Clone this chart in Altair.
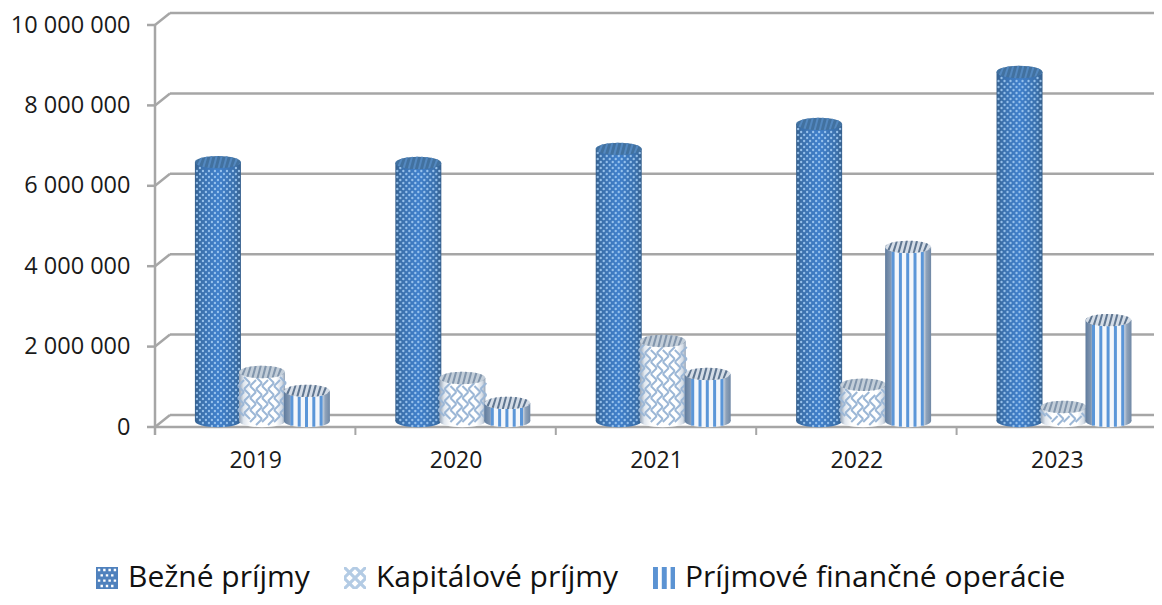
import math
import altair as alt
import pandas as pd

YEARS = ["2019", "2020", "2021", "2022", "2023"]
SERIES = ["Bežné príjmy", "Kapitálové príjmy", "Príjmové finančné operácie"]
BEZNE = [6440000, 6420000, 6770000, 7390000, 8680000]
KAPITAL = [1220000, 1070000, 1990000, 900000, 350000]
FINANCNE = [750000, 450000, 1170000, 4330000, 2510000]
TICKS = [0, 2000000, 4000000, 6000000, 8000000, 10000000]

FONT = "Open Sans"
GREY = "#a6a6a6"
UX = 200.4            # px per category
UY = 40.2 / 1e6       # px per value
DEPTH_X = 15 / UX
DEPTH_Y = 12 / UY
MID_Y = 6 / UY
OFFS = [0.314, 0.534, 0.758]
HALF = 23 / UX
RY = 6


def grad(stops):
    return alt.Gradient(gradient="linear", x1=0, x2=1, y1=0, y2=0,
                        stops=[alt.GradientStop(offset=o, color=c) for o, c in stops])


def ell_path(ry=0.27):
    return f"M-1,0 A1,{ry} 0 1 1 1,0 A1,{ry} 0 1 1 -1,0 Z"


def hatch_path(ry=0.27, w=0.09, s=0.14, step=0.22):
    def yy(x):
        return ry * math.sqrt(max(0, 1 - x * x))
    def c(x):
        return max(-1, min(1, x))
    parts = []
    x0 = -1.12
    while x0 < 1:
        a, b, d, e = c(x0), c(x0 + w), c(x0 + w + s), c(x0 + s)
        parts.append(f"M{a:.3f},{yy(a):.3f}L{b:.3f},{yy(b):.3f}L{d:.3f},{-yy(d):.3f}L{e:.3f},{-yy(e):.3f}Z")
        x0 += step
    return "".join(parts)


def swatch_dots():
    p = "M-1,-1L1,-1L1,1L-1,1Z"
    h = 0.11
    for i, y in enumerate([-0.72, -0.24, 0.24, 0.72]):
        for x in ([-0.72, -0.24, 0.24, 0.72] if i % 2 == 0 else [-0.48, 0, 0.48]):
            p += f"M{x-h},{y-h}L{x-h},{y+h}L{x+h},{y+h}L{x+h},{y-h}Z"
    return p


def swatch_weave():
    p = ""
    for r, y in enumerate([-1, -0.5, 0, 0.5]):
        for i in range(4):
            x = -1 + i * 0.5
            if (i + r) % 2 == 0:
                p += f"M{x},{y}L{x+.2},{y}L{x+.5},{y+.3}L{x+.5},{y+.5}L{x+.3},{y+.5}L{x},{y+.2}Z"
            else:
                p += f"M{x+.5},{y}L{x+.3},{y}L{x},{y+.3}L{x},{y+.5}L{x+.2},{y+.5}L{x+.5},{y+.2}Z"
    return p


SWATCH_STRIPES = "M-1,-1L-.55,-1L-.55,1L-1,1ZM-.2,-1L.25,-1L.25,1L-.2,1ZM.6,-1L1,-1L1,1L.6,1Z"

# frames ------------------------------------------------------------------
def columns(vals, idx):
    rows = []
    for k, v in enumerate(vals):
        cx = k + OFFS[idx]
        rows.append(dict(year=YEARS[k], cx=cx, xl=cx - HALF, xr=cx + HALF,
                         y0=MID_Y, top=v + MID_Y))
    return pd.DataFrame(rows)


def dots(vals, idx):
    rows = []
    for k, v in enumerate(vals):
        cx = k + OFFS[idx]
        base = 421.0
        top = 421.0 - (v * UY)
        row = 0
        py = 426.0
        while py > top - 2:
            start = -18 if row % 2 == 0 else -21
            o = start
            while o <= 21:
                e = RY * math.sqrt(max(0, 1 - (o / 23) ** 2))
                if top + e + 1 < py < base + e - 0.5:
                    rows.append(dict(x=cx + o / UX, y=(427 - py) / UY))
                o += 6
            row += 1
            py -= 3
    return pd.DataFrame(rows)


def weave(vals, idx):
    rows = []
    step = 6
    for k, v in enumerate(vals):
        cx = k + OFFS[idx]
        top = 421.0 - v * UY
        for c in range(-4, 4):
            o = c * step + 0.0
            r = 0
            py = 428.0 - (c % 2) * 3
            while py > top:
                x1, x2 = o, o + step
                y1, y2 = py, py - step
                if (c + r) % 2 == 0:
                    y1, y2 = py - step, py
                e1 = RY * math.sqrt(max(0, 1 - (x1 / 23) ** 2))
                e2 = RY * math.sqrt(max(0, 1 - (x2 / 23) ** 2))
                if min(y1, y2) > top + max(e1, e2) - 1 and max(y1, y2) < 421 + min(e1, e2):
                    rows.append(dict(x=cx + x1 / UX, x2=cx + x2 / UX,
                                     y=(427 - y1) / UY, y2=(427 - y2) / UY))
                py -= step
                r += 1
    return pd.DataFrame(rows)


def stripes(vals, idx):
    rows = []
    for k, v in enumerate(vals):
        cx = k + OFFS[idx]
        for o in [-15, -7.7, -0.4, 6.9, 14.2]:
            e = RY * math.sqrt(max(0, 1 - (o / 23) ** 2))
            rows.append(dict(x=cx + o / UX, y=MID_Y - e / UY, y2=v + MID_Y - e / UY))
    return pd.DataFrame(rows)


X = alt.Scale(domain=[0, 5], nice=False, zero=False)
Y = alt.Scale(domain=[0, 419 / 402 * 1e7], nice=False, zero=False)
xq = lambda f, **kw: alt.X(f, type="quantitative", scale=X, title=None, **kw)
yq = lambda f, **kw: alt.Y(f, type="quantitative", scale=Y, title=None, **kw)

# frame / axes ------------------------------------------------------------
grid = pd.DataFrame([dict(x=DEPTH_X, x2=5.02, y=t + DEPTH_Y, y2=t + DEPTH_Y) for t in TICKS])
slants = pd.DataFrame([dict(x=0, x2=DEPTH_X, y=t, y2=t + DEPTH_Y) for t in TICKS]
                      + [dict(x=5, x2=5.025, y=0, y2=3 / UY)])
yticks = pd.DataFrame([dict(x=-8 / UX, x2=0, y=t, y2=t) for t in TICKS])
front = pd.DataFrame([dict(x=0, x2=5, y=0, y2=0), dict(x=0, x2=0, y=-8 / UY, y2=1e7)])
xticks = pd.DataFrame([dict(x=i, x2=i, y=-8 / UY, y2=0) for i in range(1, 6)])


def lines(df, width=2.5):
    return alt.Chart(df).mark_rule(color=GREY, strokeWidth=width).encode(
        x=xq("x"), x2="x2", y=yq("y"), y2="y2")


axis_layer = alt.Chart(pd.DataFrame({"x": [0.5], "y": [0]})).mark_point(opacity=0).encode(
    x=xq("x", axis=alt.Axis(values=[i + 0.5 for i in range(5)], grid=False, ticks=False, domain=False,
                            labelExpr="[" + ",".join(f"'{y}'" for y in YEARS) + "][datum.value - 0.5]",
                            labelFont=FONT, labelFontSize=23, labelColor="#1a1a1a", labelPadding=33,
                            labelBaseline="middle", labelFlush=False)),
    y=yq("y", axis=alt.Axis(values=TICKS, grid=False, ticks=False, domain=False,
                            labelExpr="replace(format(datum.value, ','), /,/g, ' ')",
                            labelFont=FONT, labelFontSize=23.5, labelColor="#1a1a1a", labelPadding=25)),
)

LEG = dict(title=None, orient="none", legendX=-63, legendY=555, direction="horizontal",
           columns=3, labelFont=FONT, labelFontSize=30, labelColor="#111111", labelLimit=600,
           symbolSize=484, symbolStrokeWidth=0, labelOffset=6, columnPadding=30,
           padding=0, symbolOpacity=1, gridAlign="none")

legend_layer = alt.Chart(pd.DataFrame({"s": SERIES, "x": [None] * 3, "y": [None] * 3})).mark_point(filled=True).encode(
    x=xq("x"), y=yq("y"),
    color=alt.Color("s:N", scale=alt.Scale(domain=SERIES, range=["#4f81bd", "#b3cbe4", "#5b93d3"]),
                    legend=alt.Legend(**LEG)),
    shape=alt.Shape("s:N", scale=alt.Scale(domain=SERIES, range=[swatch_dots(), swatch_weave(), SWATCH_STRIPES]),
                    legend=alt.Legend(**LEG)),
)


def cylinder(vals, idx, body):
    df = columns(vals, idx)
    rect = alt.Chart(df).mark_rect(color=grad(body)).encode(x=xq("xl"), x2="xr", y=yq("y0"), y2="top")
    bottom = alt.Chart(df).mark_point(filled=True, fill=grad(body), shape=ell_path(), size=46 ** 2, opacity=1, strokeWidth=0).encode(
        x=xq("cx"), y=yq("y0"))
    return rect, bottom, df


def caps(df, cap, hatch):
    a = alt.Chart(df).mark_point(filled=True, fill=cap, shape=ell_path(), size=46 ** 2, opacity=1, strokeWidth=0).encode(
        x=xq("cx"), y=yq("top"))
    b = alt.Chart(df).mark_point(filled=True, fill=hatch, shape=hatch_path(), size=46 ** 2, opacity=1, strokeWidth=0).encode(
        x=xq("cx"), y=yq("top"))
    return [a, b]


r1, b1, d1 = cylinder(BEZNE, 0, [(0, "#36608d"), (0.12, "#3b70ab"), (0.5, "#4080cc"), (0.88, "#3b70ab"), (1, "#36608d")])
dot_layer = alt.Chart(dots(BEZNE, 0)).mark_circle(color="#a5cdf3", size=5.5, opacity=0.85).encode(x=xq("x"), y=yq("y"))
r2, b2, d2 = cylinder(KAPITAL, 1, [(0, "#8f9fb3"), (0.1, "#dfe6ee"), (0.25, "#ffffff"), (0.8, "#ffffff"), (0.93, "#d5dde7"), (1, "#93a3b6")])
weave_layer = alt.Chart(weave(KAPITAL, 1)).mark_rule(color="#9cb7d6", strokeWidth=2).encode(
    x=xq("x"), x2="x2", y=yq("y"), y2="y2")
r3, b3, d3 = cylinder(FINANCNE, 2, [(0, "#5f7b9d"), (0.12, "#8298b3"), (0.2, "#f4f7fb"), (0.8, "#f4f7fb"), (0.9, "#8ea2ba"), (1, "#7088a5")])
stripe_layer = alt.Chart(stripes(FINANCNE, 2)).mark_rule(color="#5b96d8", strokeWidth=3).encode(
    x=xq("x"), y=yq("y"), y2="y2")

layers = [axis_layer, legend_layer, lines(grid), lines(slants), lines(yticks), lines(front), lines(xticks, 2),
          r1, b1, dot_layer] + caps(d1, "#42719f", "#5388c0") + \
         [r2, b2, weave_layer] + caps(d2, "#c3ced9", "#8195ac") + \
         [r3, b3, stripe_layer] + caps(d3, "#d5dde7", "#5f7691")

chart = alt.layer(*layers).resolve_scale(color="shared", shape="shared").properties(
    width=1002, height=419,
    padding={"left": 147, "top": 0, "right": -3, "bottom": 170},
    autosize=alt.AutoSizeParams(type="none"),
    background="white",
).configure_view(stroke=None)

chart.save("out.html", embed_options={"renderer": "svg", "actions": False})
